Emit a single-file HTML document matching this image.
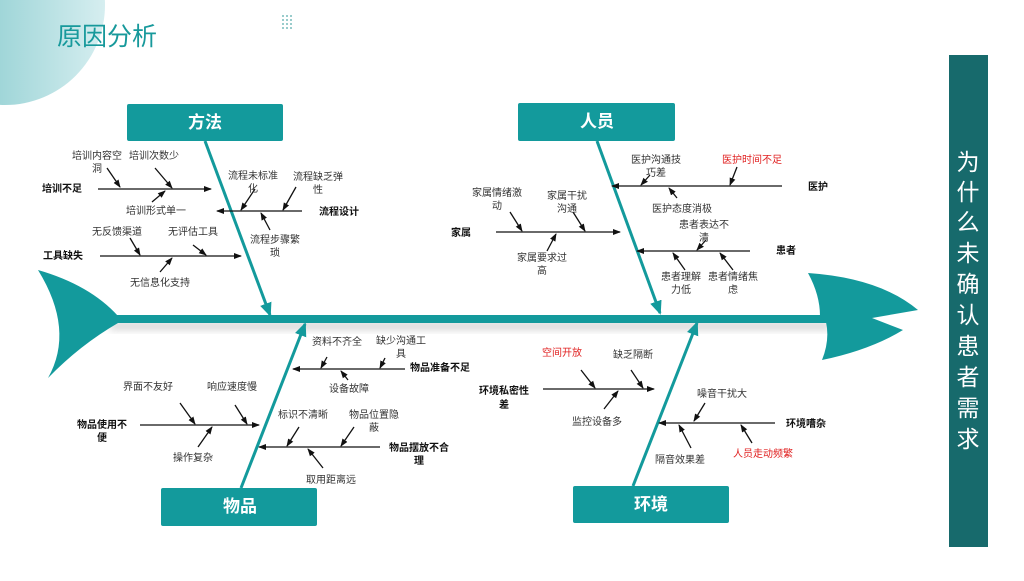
<!DOCTYPE html>
<html><head><meta charset="utf-8"><style>
html,body{margin:0;padding:0;background:#fff;}
body{width:1024px;height:576px;overflow:hidden;position:relative;font-family:"Liberation Sans","Noto Sans CJK SC",sans-serif;}
svg text{font-family:"Liberation Sans","Noto Sans CJK SC",sans-serif;}
</style></head><body>
<svg width="1024" height="576" viewBox="0 0 1024 576" xmlns="http://www.w3.org/2000/svg">
<defs>
<linearGradient id="cg" x1="0" y1="0" x2="1" y2="0">
<stop offset="0" stop-color="#6fc0c3"/><stop offset="1" stop-color="#d6eef0"/>
</linearGradient>
<marker id="a" markerWidth="8" markerHeight="8" refX="7" refY="4" orient="auto" markerUnits="userSpaceOnUse">
<path d="M0,1 L8,4 L0,7 Z" fill="#111"/></marker>
<marker id="t" markerWidth="14" markerHeight="14" refX="12" refY="7" orient="auto" markerUnits="userSpaceOnUse">
<path d="M0,1 L14,7 L0,13 Z" fill="#139a9c"/></marker>
<filter id="sh" x="-10%" y="-50%" width="120%" height="200%"><feGaussianBlur stdDeviation="4"/></filter>
</defs>
<circle cx="5" cy="5" r="100" fill="url(#cg)"/>
<text x="57" y="45" font-size="25" fill="#17999b">原因分析</text>
<g fill="#9cc">
<rect x="282" y="15" width="2" height="2"/><rect x="286" y="15" width="2" height="2"/><rect x="290" y="15" width="2" height="2"/>
<rect x="282" y="19" width="2" height="2"/><rect x="286" y="19" width="2" height="2"/><rect x="290" y="19" width="2" height="2"/>
<rect x="282" y="23" width="2" height="2"/><rect x="286" y="23" width="2" height="2"/><rect x="290" y="23" width="2" height="2"/>
<rect x="282" y="27" width="2" height="2"/><rect x="286" y="27" width="2" height="2"/><rect x="290" y="27" width="2" height="2"/>
</g>
<rect x="949" y="55" width="39" height="492" fill="#176a6c"/>
<g fill="#fff" font-size="23" text-anchor="middle">
<text x="968" y="170">为</text><text x="968" y="200">什</text><text x="968" y="230">么</text><text x="968" y="261">未</text><text x="968" y="292">确</text><text x="968" y="323">认</text><text x="968" y="354">患</text><text x="968" y="385">者</text><text x="968" y="416">需</text><text x="968" y="447">求</text>
</g>
<rect x="110" y="322" width="720" height="8" fill="#bbb" filter="url(#sh)" opacity="0.6"/>
<path d="M38,270 Q90,285 118,316 L118,323 Q80,345 48,378 Q75,330 38,270 Z" fill="#139a9c"/>
<rect x="110" y="315" width="720" height="8" fill="#139a9c"/>
<path d="M808,273 Q880,278 918,310 L872,318 L903,330 Q870,350 822,360 Q830,340 826,322 L820,316 Q820,295 808,273 Z" fill="#139a9c"/>
<g fill="#139a9c">
<rect x="127" y="104" width="156" height="37" rx="2"/>
<rect x="518" y="103" width="157" height="38" rx="2"/>
<rect x="161" y="488" width="156" height="38" rx="2"/>
<rect x="573" y="486" width="156" height="37" rx="2"/>
</g>
<g fill="#fff" font-size="17" font-weight="bold" text-anchor="middle">
<text x="205" y="128">方法</text><text x="597" y="127">人员</text><text x="240" y="512">物品</text><text x="651" y="510">环境</text>
</g>
<g stroke="#139a9c" stroke-width="3" fill="none">
<line x1="205" y1="141" x2="270" y2="315" marker-end="url(#t)"/>
<line x1="597" y1="141" x2="660" y2="313" marker-end="url(#t)"/>
<line x1="241" y1="488" x2="305" y2="324" marker-end="url(#t)"/>
<line x1="633" y1="486" x2="697" y2="323" marker-end="url(#t)"/>
</g>
<g stroke="#111" stroke-width="1.3" fill="none" marker-end="url(#a)">
<line x1="98" y1="189" x2="211" y2="189"/>
<line x1="302" y1="211" x2="217" y2="211"/>
<line x1="100" y1="256" x2="241" y2="256"/>
<line x1="782" y1="186" x2="612" y2="186"/>
<line x1="496" y1="232" x2="620" y2="232"/>
<line x1="750" y1="251" x2="637" y2="251"/>
<line x1="405" y1="369" x2="293" y2="369"/>
<line x1="140" y1="425" x2="259" y2="425"/>
<line x1="380" y1="447" x2="259" y2="447"/>
<line x1="543" y1="389" x2="654" y2="389"/>
<line x1="775" y1="423" x2="659" y2="423"/>
<line x1="107" y1="168" x2="120" y2="187"/>
<line x1="155" y1="168" x2="172" y2="188"/>
<line x1="152" y1="202" x2="165" y2="191"/>
<line x1="255" y1="189" x2="241" y2="210"/>
<line x1="296" y1="187" x2="283" y2="210"/>
<line x1="270" y1="230" x2="261" y2="213"/>
<line x1="130" y1="238" x2="140" y2="255"/>
<line x1="193" y1="245" x2="206" y2="255"/>
<line x1="160" y1="272" x2="172" y2="258"/>
<line x1="650" y1="175" x2="641" y2="185"/>
<line x1="737" y1="167" x2="730" y2="185"/>
<line x1="677" y1="198" x2="669" y2="188"/>
<line x1="510" y1="212" x2="522" y2="231"/>
<line x1="573" y1="212" x2="585" y2="231"/>
<line x1="547" y1="251" x2="556" y2="234"/>
<line x1="706" y1="240" x2="697" y2="250"/>
<line x1="685" y1="270" x2="673" y2="253"/>
<line x1="733" y1="270" x2="720" y2="253"/>
<line x1="327" y1="357" x2="321" y2="368"/>
<line x1="385" y1="358" x2="380" y2="368"/>
<line x1="348" y1="380" x2="341" y2="371"/>
<line x1="180" y1="403" x2="195" y2="424"/>
<line x1="235" y1="405" x2="247" y2="424"/>
<line x1="198" y1="447" x2="212" y2="427"/>
<line x1="299" y1="427" x2="287" y2="446"/>
<line x1="354" y1="427" x2="341" y2="446"/>
<line x1="323" y1="468" x2="308" y2="449"/>
<line x1="581" y1="370" x2="595" y2="388"/>
<line x1="631" y1="370" x2="643" y2="388"/>
<line x1="604" y1="409" x2="618" y2="391"/>
<line x1="705" y1="403" x2="694" y2="421"/>
<line x1="691" y1="448" x2="679" y2="425"/>
<line x1="752" y1="443" x2="741" y2="425"/>
</g>
<g font-size="10" fill="#333" text-anchor="middle">
<text x="97" y="159">培训内容空</text><text x="97" y="172">洞</text>
<text x="154" y="159">培训次数少</text>
<text x="156" y="214">培训形式单一</text>
<text x="253" y="179">流程未标准</text><text x="253" y="192">化</text>
<text x="318" y="180">流程缺乏弹</text><text x="318" y="193">性</text>
<text x="275" y="243">流程步骤繁</text><text x="275" y="256">琐</text>
<text x="117" y="235">无反馈渠道</text>
<text x="193" y="235">无评估工具</text>
<text x="160" y="286">无信息化支持</text>
<text x="656" y="163">医护沟通技</text><text x="656" y="176">巧差</text>
<text x="752" y="163" fill="#e02020">医护时间不足</text>
<text x="682" y="212">医护态度消极</text>
<text x="497" y="196">家属情绪激</text><text x="497" y="209">动</text>
<text x="567" y="199">家属干扰</text><text x="567" y="212">沟通</text>
<text x="542" y="261">家属要求过</text><text x="542" y="274">高</text>
<text x="704" y="228">患者表达不</text><text x="704" y="241">清</text>
<text x="681" y="280">患者理解</text><text x="681" y="293">力低</text>
<text x="733" y="280">患者情绪焦</text><text x="733" y="293">虑</text>
<text x="337" y="345">资料不齐全</text>
<text x="401" y="344">缺少沟通工</text><text x="401" y="357">具</text>
<text x="349" y="392">设备故障</text>
<text x="148" y="390">界面不友好</text>
<text x="232" y="390">响应速度慢</text>
<text x="193" y="461">操作复杂</text>
<text x="303" y="418">标识不清晰</text>
<text x="374" y="418">物品位置隐</text><text x="374" y="431">蔽</text>
<text x="331" y="483">取用距离远</text>
<text x="562" y="356" fill="#e02020">空间开放</text>
<text x="633" y="358">缺乏隔断</text>
<text x="597" y="425">监控设备多</text>
<text x="722" y="397">噪音干扰大</text>
<text x="680" y="463">隔音效果差</text>
<text x="763" y="457" fill="#e02020">人员走动频繁</text>
</g>
<g font-size="10" font-weight="bold" fill="#111" text-anchor="middle">
<text x="62" y="192">培训不足</text>
<text x="339" y="215">流程设计</text>
<text x="63" y="259">工具缺失</text>
<text x="818" y="190">医护</text>
<text x="461" y="236">家属</text>
<text x="786" y="254">患者</text>
<text x="440" y="371">物品准备不足</text>
<text x="102" y="428">物品使用不</text><text x="102" y="441">便</text>
<text x="419" y="451">物品摆放不合</text><text x="419" y="464">理</text>
<text x="504" y="394">环境私密性</text><text x="504" y="408">差</text>
<text x="806" y="427">环境嘈杂</text>
</g>
</svg>
</body></html>
